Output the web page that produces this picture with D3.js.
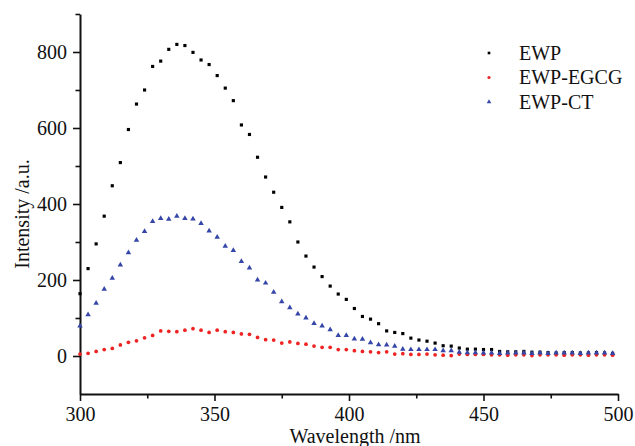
<!DOCTYPE html>
<html>
<head>
<meta charset="utf-8">
<script src="https://cdn.jsdelivr.net/npm/d3@7/dist/d3.min.js"></script>
<style>
  html, body { margin: 0; padding: 0; background: #fff; }
  svg { display: block; }
  text { font-family: "Liberation Serif", "Times New Roman", serif; fill: #111; }
</style>
</head>
<body>
<svg id="chart" width="635" height="446"></svg>
<script>
// ---- data ----
const wavelength = [300,303,306,309,312,315,318,321,324,327,330,333,336,339,342,345,348,351,
  354,357,360,363,366,369,372,375,378,381,384,387,390,393,396,399,402,
  405,408,411,414,417,420,423,426,429,432,435,438,441,444,447,450,
  453,456,459,462,465,468,471,474,477,480,483,486,489,492,495,498];

const ewp = [164,230,295,368,448,509,596,663,700,762,776,807,820,817,799,779,767,738,
  705,672,608,583,523,471,431,391,353,300,263,234,209,184,163,149,125,
  104,97,85,66,62,59,47,42,39,34,27,26,21,18,18,17,
  17,12,11,11,12,10,10,9,8,9,9,8,8,9,8,7];

const ewpEgcg = [5,7,12,17,20,29,36,40,48,54,66,65,64,68,72,68,62,68,
  64,62,58,57,49,43,42,34,37,33,31,26,23,23,17,17,14,
  12,11,9,11,5,6,4,4,5,3,2,1,5,4,4,4,
  3,3,2,3,3,1,3,3,3,2,3,3,2,3,3,2];

const ewpCt = [79,109,139,176,205,240,272,305,328,354,362,360,368,362,361,349,329,313,
  289,278,249,232,200,192,168,143,127,111,100,86,79,69,54,54,45,
  44,35,30,29,26,18,17,17,17,17,14,14,10,9,9,8,
  8,7,8,8,8,7,8,7,8,8,8,7,8,8,8,7];

const seriesNames = ["EWP", "EWP-EGCG", "EWP-CT"];
const xTicks = [300, 350, 400, 450, 500];
const xMinorTicks = [325, 375, 425, 475];
const yTicks = [0, 200, 400, 600, 800];
const yMinorTicks = [100, 300, 500, 700, 900];
const xTitle = "Wavelength /nm";
const yTitle = "Intensity /a.u.";

// ---- chart ----
const svg = d3.select("#chart");
const x = d3.scaleLinear().domain([300, 500]).range([80, 618]);
const y = d3.scaleLinear().domain([-100, 900]).range([394, 14]);

const colors = ["#000000", "#ee2424", "#3546a8"];
const shapes = [d3.symbolSquare, d3.symbolCircle, d3.symbolTriangle];
const sizes = [10, 11, 13];
const seriesData = [ewp, ewpEgcg, ewpCt];

// axes
function styleAxis(g, width) {
  g.select(".domain").attr("stroke", "#111").attr("stroke-width", width);
  g.selectAll(".tick line").attr("stroke", "#111").attr("stroke-width", 1.6);
  g.selectAll(".tick text").style("font-size", "20px").attr("fill", "#111");
}

const xAxis = svg.append("g").attr("transform", `translate(0,${y(-100)})`)
  .call(d3.axisBottom(x).tickValues(xTicks).tickSize(7).tickPadding(6).tickSizeOuter(0));
styleAxis(xAxis, 2);
const xMinor = svg.append("g").attr("transform", `translate(0,${y(-100)})`)
  .call(d3.axisBottom(x).tickValues(xMinorTicks).tickSize(4.5).tickFormat("").tickSizeOuter(0));
styleAxis(xMinor, 0);
xMinor.select(".domain").remove();

const yAxis = svg.append("g").attr("transform", `translate(${x(300)},0)`)
  .call(d3.axisLeft(y).tickValues(yTicks).tickSize(7).tickPadding(6).tickSizeOuter(0));
styleAxis(yAxis, 2);
const yMinor = svg.append("g").attr("transform", `translate(${x(300)},0)`)
  .call(d3.axisLeft(y).tickValues(yMinorTicks).tickSize(4.5).tickFormat("").tickSizeOuter(0));
yMinor.select(".domain").remove();
styleAxis(yMinor, 0);

// titles
svg.append("text")
  .attr("x", 355).attr("y", 443)
  .attr("text-anchor", "middle")
  .style("font-size", "20px")
  .text(xTitle);
svg.append("text")
  .attr("transform", `translate(29,214) rotate(-90)`)
  .attr("text-anchor", "middle")
  .style("font-size", "20px")
  .text(yTitle);

// points
seriesData.forEach((vals, i) => {
  const sym = d3.symbol().type(shapes[i]).size(sizes[i]);
  svg.append("g").selectAll("path")
    .data(wavelength.map((w, j) => [w, vals[j]]))
    .join("path")
    .attr("d", sym)
    .attr("transform", d => `translate(${x(d[0])},${y(d[1])})`)
    .attr("fill", colors[i]);
});

// legend
const legend = svg.append("g");
seriesNames.forEach((name, i) => {
  const cy = 53 + i * 24.5;
  legend.append("path")
    .attr("d", d3.symbol().type(shapes[i]).size(sizes[i] * 0.7)())
    .attr("transform", `translate(489,${cy})`)
    .attr("fill", colors[i]);
  legend.append("text")
    .attr("x", 519).attr("y", cy + 6.5)
    .style("font-size", "20px")
    .text(name);
});
</script>
</body>
</html>
